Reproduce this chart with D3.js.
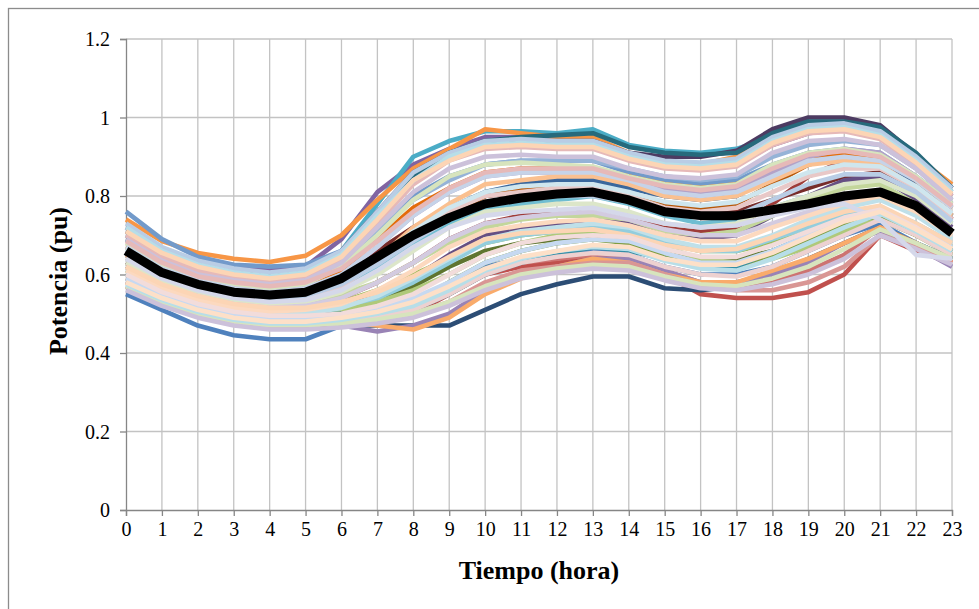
<!DOCTYPE html>
<html><head><meta charset="utf-8">
<script src="https://cdn.jsdelivr.net/npm/d3@7/dist/d3.min.js"></script>
<style>body{margin:0;background:#fff}svg{display:block}</style>
</head><body><div id="chart"></div>
<script>
const hours = d3.range(0, 24);
const yTicks = [0, 0.2, 0.4, 0.6, 0.8, 1.0, 1.2];
const yTickLabels = ["0", "0.2", "0.4", "0.6", "0.8", "1", "1.2"];
const xLabel = "Tiempo (hora)";
const yLabel = "Potencia (pu)";

const colors = [
"#4F81BD","#C0504D","#9BBB59","#8064A2","#4BACC6","#F79646",
"#2C4D75","#772C2A","#5F7530","#4D3B62","#276A7C","#B65708",
"#729ACA","#CD7371","#AFC97A","#9983B5","#6FBDD1","#F9AB6B",
"#3A679C","#9E3B38","#7E9C40","#664F83","#358EA6","#E46C0A",
"#95B3D7","#D99694","#C3D69B","#B3A2C7","#93CDDD","#FAC090",
"#B9CDE5","#E6B9B8","#D7E4BD","#CCC1DA","#B7DEE8","#FCD5B5",
"#C6D3E8","#E8C8C7","#DCE6C9","#D3CBE0","#BFE0E9","#FCD9BF",
"#C6D9F1","#EDD1D0","#D7E4BD","#CCC1DA","#B7DEE8","#FCD5B5",
"#B9CDE5","#E6B9B8","#D5D8EA","#F2DCDB","#CFE6EE","#FDE0C8"];

const series = [
[0.55,0.51,0.47,0.445,0.435,0.435,0.47,0.50,0.53,0.57,0.62,0.64,0.65,0.66,0.65,0.62,0.60,0.60,0.62,0.66,0.70,0.73,0.68,0.64],
[0.58,0.53,0.50,0.48,0.47,0.47,0.47,0.48,0.50,0.55,0.60,0.62,0.63,0.64,0.63,0.60,0.55,0.54,0.54,0.555,0.60,0.70,0.66,0.63],
[0.62,0.57,0.54,0.52,0.51,0.51,0.53,0.56,0.60,0.64,0.68,0.70,0.71,0.72,0.71,0.68,0.66,0.66,0.68,0.71,0.74,0.76,0.72,0.67],
[0.72,0.66,0.63,0.615,0.61,0.62,0.69,0.81,0.88,0.92,0.95,0.95,0.94,0.93,0.90,0.88,0.87,0.88,0.93,0.96,0.97,0.95,0.88,0.80],
[0.70,0.65,0.62,0.60,0.59,0.60,0.66,0.78,0.90,0.94,0.965,0.965,0.96,0.97,0.93,0.915,0.91,0.92,0.95,0.97,0.97,0.95,0.89,0.81],
[0.74,0.685,0.655,0.64,0.632,0.648,0.70,0.79,0.87,0.92,0.97,0.96,0.95,0.95,0.91,0.89,0.88,0.90,0.95,0.97,0.98,0.96,0.90,0.83],
[0.58,0.54,0.51,0.49,0.48,0.48,0.47,0.47,0.47,0.47,0.51,0.55,0.575,0.595,0.595,0.565,0.56,0.57,0.60,0.64,0.68,0.72,0.68,0.64],
[0.66,0.61,0.58,0.56,0.55,0.56,0.60,0.66,0.72,0.77,0.80,0.81,0.82,0.82,0.80,0.77,0.76,0.76,0.79,0.82,0.85,0.86,0.81,0.74],
[0.60,0.55,0.52,0.50,0.49,0.49,0.51,0.53,0.57,0.62,0.66,0.68,0.69,0.70,0.69,0.66,0.64,0.64,0.66,0.69,0.72,0.74,0.70,0.66],
[0.71,0.66,0.63,0.61,0.60,0.61,0.66,0.76,0.86,0.91,0.94,0.94,0.94,0.94,0.91,0.90,0.90,0.915,0.97,1.0,1.0,0.98,0.905,0.82],
[0.69,0.64,0.61,0.59,0.58,0.59,0.64,0.74,0.85,0.91,0.94,0.95,0.955,0.96,0.925,0.91,0.905,0.91,0.96,0.99,0.99,0.975,0.91,0.82],
[0.63,0.58,0.55,0.53,0.52,0.53,0.56,0.62,0.69,0.75,0.80,0.82,0.83,0.83,0.81,0.78,0.77,0.78,0.83,0.88,0.90,0.89,0.83,0.75],
[0.76,0.69,0.645,0.625,0.62,0.625,0.66,0.73,0.80,0.85,0.88,0.89,0.89,0.89,0.86,0.84,0.83,0.84,0.88,0.91,0.92,0.91,0.85,0.78],
[0.57,0.53,0.50,0.48,0.47,0.47,0.48,0.50,0.53,0.57,0.61,0.63,0.64,0.65,0.64,0.61,0.58,0.57,0.58,0.61,0.65,0.72,0.67,0.63],
[0.61,0.56,0.53,0.51,0.50,0.50,0.51,0.53,0.56,0.60,0.65,0.68,0.70,0.71,0.70,0.67,0.64,0.63,0.64,0.67,0.71,0.75,0.71,0.66],
[0.60,0.55,0.52,0.50,0.485,0.485,0.47,0.455,0.47,0.50,0.56,0.60,0.62,0.64,0.64,0.61,0.58,0.58,0.60,0.63,0.68,0.71,0.67,0.62],
[0.64,0.59,0.56,0.54,0.53,0.54,0.57,0.62,0.68,0.73,0.77,0.78,0.79,0.80,0.78,0.75,0.73,0.74,0.77,0.80,0.83,0.84,0.80,0.73],
[0.58,0.54,0.51,0.49,0.48,0.48,0.48,0.47,0.46,0.49,0.55,0.59,0.62,0.64,0.63,0.60,0.58,0.58,0.61,0.64,0.68,0.72,0.68,0.63],
[0.65,0.60,0.57,0.55,0.54,0.55,0.58,0.64,0.71,0.77,0.81,0.83,0.84,0.84,0.82,0.80,0.79,0.80,0.85,0.89,0.90,0.89,0.83,0.75],
[0.62,0.57,0.54,0.52,0.51,0.52,0.54,0.58,0.63,0.69,0.73,0.75,0.76,0.76,0.75,0.72,0.71,0.72,0.78,0.85,0.89,0.88,0.82,0.74],
[0.59,0.545,0.515,0.495,0.485,0.485,0.50,0.51,0.53,0.58,0.63,0.66,0.68,0.69,0.68,0.65,0.62,0.62,0.65,0.69,0.73,0.75,0.70,0.65],
[0.63,0.58,0.55,0.53,0.52,0.52,0.53,0.55,0.59,0.65,0.70,0.72,0.73,0.74,0.73,0.70,0.69,0.70,0.75,0.80,0.84,0.85,0.79,0.72],
[0.60,0.56,0.53,0.51,0.50,0.50,0.50,0.50,0.51,0.55,0.60,0.63,0.65,0.67,0.66,0.64,0.62,0.62,0.66,0.70,0.74,0.77,0.72,0.66],
[0.67,0.62,0.59,0.57,0.56,0.57,0.61,0.69,0.77,0.82,0.86,0.87,0.87,0.87,0.85,0.83,0.82,0.83,0.87,0.90,0.91,0.90,0.84,0.77],
[0.70,0.645,0.61,0.59,0.58,0.59,0.63,0.71,0.79,0.84,0.88,0.89,0.89,0.89,0.87,0.85,0.84,0.85,0.90,0.93,0.94,0.93,0.87,0.79],
[0.59,0.55,0.52,0.50,0.49,0.49,0.49,0.49,0.50,0.53,0.58,0.61,0.62,0.63,0.63,0.60,0.57,0.56,0.56,0.58,0.62,0.70,0.67,0.63],
[0.64,0.59,0.56,0.54,0.53,0.53,0.55,0.58,0.63,0.68,0.72,0.74,0.75,0.75,0.74,0.71,0.70,0.71,0.75,0.79,0.82,0.83,0.78,0.71],
[0.66,0.61,0.58,0.56,0.55,0.56,0.60,0.67,0.75,0.81,0.85,0.86,0.86,0.86,0.84,0.82,0.81,0.82,0.86,0.90,0.92,0.91,0.85,0.77],
[0.61,0.565,0.535,0.515,0.505,0.505,0.52,0.54,0.58,0.63,0.68,0.70,0.71,0.72,0.71,0.68,0.66,0.66,0.69,0.72,0.75,0.77,0.73,0.68],
[0.65,0.60,0.57,0.55,0.54,0.55,0.58,0.64,0.72,0.78,0.83,0.84,0.85,0.85,0.83,0.80,0.79,0.80,0.84,0.88,0.89,0.88,0.82,0.75],
[0.73,0.67,0.635,0.615,0.605,0.615,0.66,0.76,0.86,0.91,0.94,0.945,0.94,0.94,0.91,0.89,0.885,0.895,0.95,0.98,0.985,0.965,0.90,0.82],
[0.70,0.645,0.61,0.595,0.585,0.595,0.64,0.73,0.83,0.89,0.92,0.925,0.92,0.92,0.89,0.87,0.865,0.875,0.93,0.96,0.965,0.945,0.88,0.80],
[0.68,0.625,0.595,0.575,0.565,0.575,0.62,0.70,0.79,0.85,0.88,0.885,0.88,0.875,0.85,0.83,0.82,0.83,0.88,0.91,0.92,0.905,0.85,0.78],
[0.69,0.635,0.60,0.585,0.575,0.585,0.63,0.72,0.81,0.87,0.90,0.905,0.90,0.90,0.87,0.85,0.845,0.855,0.91,0.94,0.945,0.93,0.87,0.79],
[0.72,0.66,0.625,0.605,0.595,0.605,0.65,0.75,0.84,0.90,0.93,0.935,0.93,0.93,0.90,0.88,0.875,0.885,0.94,0.97,0.975,0.955,0.89,0.81],
[0.71,0.655,0.62,0.60,0.59,0.60,0.645,0.74,0.84,0.89,0.925,0.93,0.925,0.925,0.895,0.875,0.87,0.88,0.935,0.965,0.97,0.95,0.885,0.805],
[0.67,0.615,0.585,0.565,0.555,0.565,0.60,0.67,0.75,0.81,0.85,0.86,0.86,0.86,0.84,0.81,0.80,0.81,0.85,0.89,0.90,0.89,0.84,0.77],
[0.64,0.59,0.56,0.545,0.535,0.54,0.57,0.63,0.70,0.76,0.80,0.81,0.82,0.82,0.80,0.77,0.76,0.77,0.81,0.85,0.87,0.87,0.82,0.74],
[0.63,0.58,0.55,0.535,0.525,0.53,0.555,0.60,0.66,0.72,0.76,0.77,0.78,0.78,0.76,0.73,0.72,0.73,0.77,0.80,0.83,0.84,0.80,0.73],
[0.62,0.57,0.545,0.525,0.515,0.52,0.54,0.58,0.63,0.69,0.73,0.745,0.755,0.76,0.74,0.715,0.70,0.70,0.73,0.76,0.79,0.81,0.77,0.71],
[0.60,0.555,0.525,0.505,0.495,0.50,0.515,0.545,0.59,0.64,0.69,0.71,0.72,0.73,0.72,0.69,0.67,0.67,0.70,0.74,0.77,0.79,0.75,0.69],
[0.61,0.565,0.535,0.515,0.505,0.51,0.525,0.56,0.61,0.67,0.71,0.725,0.735,0.74,0.725,0.70,0.685,0.685,0.72,0.75,0.78,0.80,0.76,0.70],
[0.59,0.545,0.515,0.495,0.485,0.485,0.49,0.51,0.54,0.58,0.63,0.66,0.68,0.69,0.685,0.655,0.63,0.63,0.66,0.70,0.74,0.77,0.72,0.67],
[0.58,0.535,0.505,0.485,0.475,0.475,0.48,0.49,0.51,0.55,0.60,0.63,0.645,0.655,0.65,0.62,0.60,0.595,0.62,0.66,0.70,0.74,0.70,0.65],
[0.57,0.53,0.50,0.48,0.47,0.47,0.475,0.485,0.50,0.53,0.57,0.60,0.615,0.625,0.62,0.595,0.575,0.57,0.59,0.62,0.665,0.715,0.68,0.64],
[0.56,0.52,0.49,0.47,0.46,0.46,0.465,0.475,0.49,0.52,0.56,0.59,0.605,0.615,0.61,0.585,0.565,0.56,0.575,0.60,0.64,0.70,0.665,0.625],
[0.575,0.535,0.505,0.485,0.475,0.475,0.485,0.50,0.52,0.56,0.61,0.64,0.66,0.67,0.665,0.635,0.615,0.61,0.64,0.68,0.72,0.755,0.71,0.66],
[0.62,0.575,0.545,0.525,0.515,0.515,0.53,0.555,0.595,0.645,0.69,0.705,0.71,0.715,0.70,0.675,0.66,0.665,0.695,0.73,0.76,0.775,0.73,0.68],
[0.655,0.60,0.57,0.55,0.54,0.545,0.575,0.625,0.685,0.74,0.775,0.79,0.80,0.80,0.785,0.755,0.745,0.75,0.79,0.83,0.855,0.855,0.81,0.735],
[0.685,0.63,0.595,0.58,0.57,0.58,0.615,0.685,0.76,0.82,0.86,0.87,0.87,0.87,0.845,0.825,0.815,0.825,0.87,0.905,0.915,0.90,0.845,0.775],
[0.64,0.59,0.56,0.54,0.53,0.535,0.56,0.61,0.67,0.72,0.75,0.76,0.765,0.77,0.75,0.73,0.72,0.725,0.75,0.77,0.78,0.74,0.65,0.64],
[0.60,0.555,0.525,0.505,0.495,0.495,0.50,0.52,0.55,0.60,0.65,0.68,0.695,0.70,0.695,0.665,0.645,0.645,0.675,0.71,0.745,0.765,0.72,0.665],
[0.665,0.61,0.58,0.56,0.55,0.555,0.585,0.64,0.71,0.77,0.81,0.825,0.83,0.83,0.81,0.785,0.775,0.785,0.825,0.86,0.88,0.875,0.825,0.755],
[0.58,0.54,0.51,0.49,0.48,0.48,0.49,0.505,0.53,0.57,0.615,0.645,0.66,0.675,0.67,0.64,0.625,0.625,0.655,0.695,0.735,0.76,0.715,0.665]
];

const average = [0.66,0.605,0.575,0.555,0.548,0.555,0.59,0.645,0.70,0.745,0.78,0.795,0.805,0.81,0.79,0.76,0.75,0.75,0.765,0.78,0.80,0.81,0.775,0.705];

const W = 979, H = 609;
const FONT = "'Liberation Serif','Times New Roman',serif";
const svg = d3.select("#chart").append("svg").attr("width", W).attr("height", H);

svg.append("rect").attr("x", 8.5).attr("y", 8.5).attr("width", 1100).attr("height", 800)
  .attr("fill", "#fff").attr("stroke", "#8c8c8c").attr("stroke-width", 1.3);

const x = d3.scaleLinear().domain([0, 23]).range([126, 952]);
const y = d3.scaleLinear().domain([0, 1.2]).range([510, 39]);

// gridlines
svg.append("g").selectAll("line").data(yTicks.slice(1)).join("line")
  .attr("x1", x(0)).attr("x2", x(23)).attr("y1", d => y(d)).attr("y2", d => y(d))
  .attr("stroke", "#c3c3c3").attr("stroke-width", 1.3);
svg.append("g").selectAll("line").data(hours.slice(1)).join("line")
  .attr("x1", d => x(d)).attr("x2", d => x(d)).attr("y1", y(1.2)).attr("y2", y(0))
  .attr("stroke", "#c3c3c3").attr("stroke-width", 1.3);

// axes
const xAxis = d3.axisBottom(x).tickValues(hours).tickSize(6).tickFormat(d3.format("d"));
const yAxis = d3.axisLeft(y).tickValues(yTicks).tickSize(6).tickFormat((d, i) => yTickLabels[i]);
const gx = svg.append("g").attr("transform", `translate(0,${y(0)})`).call(xAxis);
const gy = svg.append("g").attr("transform", `translate(${x(0)},0)`).call(yAxis);
[gx, gy].forEach(g => {
  g.select(".domain").attr("stroke", "#868686").attr("stroke-width", 1.3);
  g.selectAll(".tick line").attr("stroke", "#868686").attr("stroke-width", 1.3);
  g.selectAll(".tick text").attr("fill", "#000").attr("font-family", FONT).attr("font-size", 20);
});
gx.selectAll(".tick text").attr("dy", null).attr("y", 26);
gy.selectAll(".tick text").attr("x", -16).attr("dy", "0.34em");

// lines
const line = d3.line().x((d, i) => x(hours[i])).y(d => y(d));
const gl = svg.append("g");
series.forEach((s, i) => {
  gl.append("path").attr("d", line(s)).attr("fill", "none")
    .attr("stroke", colors[i % colors.length]).attr("stroke-width", 4.6)
    .attr("stroke-linejoin", "round");
});
gl.append("path").attr("d", line(average)).attr("fill", "none")
  .attr("stroke", "#000").attr("stroke-width", 9).attr("stroke-linejoin", "round");

// titles
svg.append("text").attr("x", 539).attr("y", 579).attr("text-anchor", "middle")
  .attr("font-family", FONT).attr("font-weight", "bold")
  .attr("font-size", 26).text(xLabel);
svg.append("text").attr("transform", `translate(67,281) rotate(-90)`).attr("text-anchor", "middle")
  .attr("font-family", FONT).attr("font-weight", "bold")
  .attr("font-size", 26).text(yLabel);
</script></body></html>
